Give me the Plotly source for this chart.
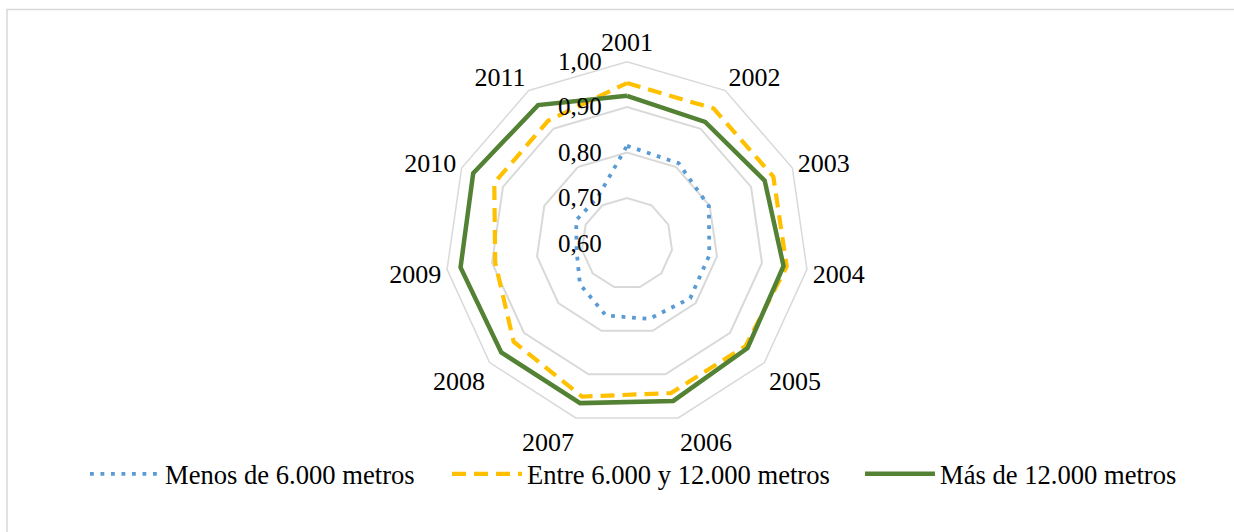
import plotly.graph_objects as go

years = ["2001", "2002", "2003", "2004", "2005", "2006", "2007", "2008", "2009", "2010", "2011"]
menos_6000 = [0.815, 0.810, 0.798, 0.783, 0.784, 0.773, 0.765, 0.737, 0.712, 0.723, 0.720]
entre_6000_12000 = [0.953, 0.953, 0.954, 0.955, 0.945, 0.943, 0.951, 0.930, 0.893, 0.921, 0.921]
mas_12000 = [0.925, 0.918, 0.933, 0.948, 0.951, 0.961, 0.966, 0.966, 0.970, 0.972, 0.962]
series_names = ["Menos de 6.000 metros", "Entre 6.000 y 12.000 metros", "Más de 12.000 metros"]
radial_ticks = [0.6, 0.7, 0.8, 0.9, 1.0]

FONT = "Liberation Serif"
W, H = 1234, 532

def closed(v):
    return list(v) + [v[0]]

theta = closed(years)

fig = go.Figure()
fig.add_trace(go.Scatterpolar(
    r=closed(menos_6000), theta=theta, mode="lines", name=series_names[0],
    line=dict(color="#5b9bd5", width=3.8, dash="3.8px,6.7px"), legend="legend"))
fig.add_trace(go.Scatterpolar(
    r=closed(entre_6000_12000), theta=theta, mode="lines", name=series_names[1],
    line=dict(color="#ffc000", width=4.2, dash="14px,8px"), legend="legend2"))
fig.add_trace(go.Scatterpolar(
    r=closed(mas_12000), theta=theta, mode="lines", name=series_names[2],
    line=dict(color="#548235", width=4.5), legend="legend3"))

cx, cy, R = 627, 243.5, 181.8
dom_x = [(cx - R) / W, (cx + R) / W]
dom_y = [1 - (cy + R) / H, 1 - (cy - R) / H]

SYM_W = 70
legend_common = dict(orientation="h", yanchor="middle", y=1 - 474 / H, xanchor="left",
                     itemwidth=SYM_W,
                     font=dict(family=FONT, size=26.6, color="black"), bgcolor="rgba(0,0,0,0)")

fig.update_layout(
    width=W, height=H,
    margin=dict(l=0, r=0, t=0, b=0),
    paper_bgcolor="white",
    separators=",.",
    font=dict(family=FONT, color="black"),
    polar=dict(
        domain=dict(x=dom_x, y=dom_y),
        bgcolor="white",
        gridshape="linear",
        angularaxis=dict(
            rotation=90, direction="clockwise",
            showgrid=False, showline=True, linecolor="#d9d9d9", linewidth=1.5,
            ticks="", tickfont=dict(family=FONT, size=26, color="black"),
        ),
        radialaxis=dict(
            range=[0.6, 1.0], tickvals=radial_ticks, tickformat=".2f",
            angle=90, side="counterclockwise", tickangle=90,
            showline=False, ticks="outside", ticklen=16, tickcolor="rgba(0,0,0,0)",
            gridcolor="#d9d9d9", gridwidth=1.5,
            tickfont=dict(family=FONT, size=25, color="black"),
        ),
    ),
    showlegend=True,
    legend=dict(legend_common, x=(165 - SYM_W - 10) / W),
    legend2=dict(legend_common, x=(527 - SYM_W - 10) / W),
    legend3=dict(legend_common, x=(940 - SYM_W - 10) / W),
    shapes=[dict(type="rect", xref="paper", yref="paper",
                 x0=7 / W, x1=1.02, y0=-0.02, y1=1 - 9.5 / H,
                 line=dict(color="#d9d9d9", width=1.5), fillcolor="rgba(0,0,0,0)", layer="below")],
)

fig.write_html("out.html")
